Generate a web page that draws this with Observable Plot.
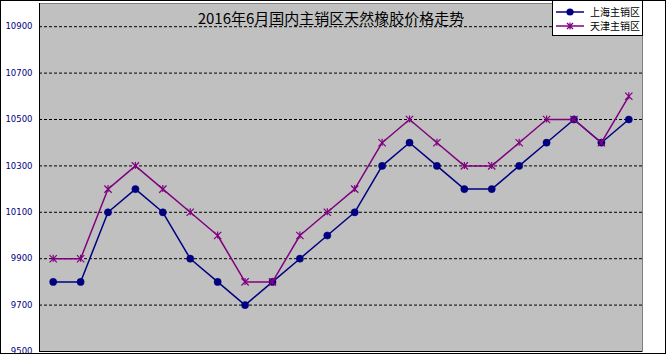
<!DOCTYPE html>
<html>
<head>
<meta charset="utf-8">
<script src="https://cdn.jsdelivr.net/npm/d3@7"></script>
<script src="https://cdn.jsdelivr.net/npm/@observablehq/plot@0.6"></script>
<style>
  body { margin: 0; background: #fff; }
  #wrap { position: relative; width: 666px; height: 356px; overflow: hidden; }
  #border { position: absolute; left: 0; top: 0; width: 664px; height: 352px; border: 1px solid #000; pointer-events: none; }
  #legend { position: absolute; left: 552px; top: 0; width: 89px; height: 34px; border: 1px solid #000; background: #fff; font-family: "Noto Sans CJK SC", sans-serif; font-size: 10px; color: #000; }
  .row { position: absolute; left: 2px; height: 14px; display: flex; align-items: center; }
  .row span { margin-left: 5px; line-height: 14px; }
</style>
</head>
<body>
<div id="wrap"></div>
<script>
const title = "2016年6月国内主销区天然橡胶价格走势";
const seriesNames = ["上海主销区", "天津主销区"];
const points = [1, 2, 3, 4, 5, 6, 7, 8, 9, 10, 11, 12, 13, 14, 15, 16, 17, 18, 19, 20, 21, 22];
const shanghai = [9800, 9800, 10100, 10200, 10100, 9900, 9800, 9700, 9800, 9900, 10000, 10100, 10300, 10400, 10300, 10200, 10200, 10300, 10400, 10500, 10400, 10500];
const tianjin = [9900, 9900, 10200, 10300, 10200, 10100, 10000, 9800, 9800, 10000, 10100, 10200, 10400, 10500, 10400, 10300, 10300, 10400, 10500, 10500, 10400, 10600];
const yTicks = [9500, 9700, 9900, 10100, 10300, 10500, 10700, 10900];
const gridTicks = [9700, 9900, 10100, 10300, 10500, 10700, 10900];
const yDomain = [9500, 11000];
const xDomain = [0.5, 22.5];
const colors = ["#000080", "#800080"];

const dataSH = points.map((p, i) => ({p, v: shanghai[i]}));
const dataTJ = points.map((p, i) => ({p, v: tianjin[i]}));

const chart = Plot.plot({
  width: 666,
  height: 356,
  marginLeft: 39,
  marginRight: 24,
  marginTop: 3,
  marginBottom: 5,
  style: {background: "white", fontFamily: "DejaVu Sans, sans-serif", fontSize: "8.5px", overflow: "visible"},
  x: {domain: xDomain, axis: null},
  y: {domain: yDomain, axis: null},
  marks: [
    Plot.frame({fill: "#c0c0c0", stroke: "#808080"}),
    Plot.ruleY(gridTicks, {stroke: "#000", strokeWidth: 1, strokeDasharray: "3,2"}),
    Plot.ruleX([xDomain[0]], {stroke: "#000", strokeWidth: 1}),
    Plot.ruleY([yDomain[0]], {stroke: "#000", strokeWidth: 1}),
    Plot.axisY({ticks: yTicks, tickSize: 0, tickPadding: 7, tickFormat: d => String(d), fill: "#000080", label: null, fontSize: "8.5px"}),
    Plot.line(dataSH, {x: "p", y: "v", stroke: colors[0], strokeWidth: 1.5}),
    Plot.dot(dataSH, {x: "p", y: "v", r: 3.6, fill: colors[0], stroke: colors[0], strokeWidth: 0.5}),
    Plot.line(dataTJ, {x: "p", y: "v", stroke: colors[1], strokeWidth: 1.5}),
    Plot.dot(dataTJ, {x: "p", y: "v", symbol: "times", r: 3.4, stroke: colors[1], strokeWidth: 1.2}),
    Plot.ruleX(dataTJ, {x: "p", y1: d => d.v - 15, y2: d => d.v + 15, stroke: colors[1], strokeWidth: 1.2}),
    Plot.text([title], {frameAnchor: "top", dx: -10, dy: 16, lineAnchor: "middle", fontSize: 15, fontFamily: "Noto Sans CJK SC", fill: "#000", text: d => d})
  ]
});

const wrap = document.getElementById("wrap");
wrap.appendChild(chart);
const border = document.createElement("div");
border.id = "border";
wrap.appendChild(border);

const legend = document.createElement("div");
legend.id = "legend";
const sym = [
  `<svg width="30" height="10"><line x1="1" y1="5" x2="29" y2="5" stroke="${colors[0]}" stroke-width="1.5"/><circle cx="15" cy="5" r="3.6" fill="${colors[0]}"/></svg>`,
  `<svg width="30" height="10"><line x1="1" y1="5" x2="29" y2="5" stroke="${colors[1]}" stroke-width="1.5"/><path d="M12,2L18,8M18,2L12,8M15,1.5L15,8.5" stroke="${colors[1]}" stroke-width="1.2"/></svg>`
];
seriesNames.forEach((n, i) => {
  const row = document.createElement("div");
  row.className = "row";
  row.style.top = (i === 0 ? 4 : 18) + "px";
  row.innerHTML = sym[i] + `<span>${n}</span>`;
  legend.appendChild(row);
});
wrap.appendChild(legend);
</script>
</body>
</html>
